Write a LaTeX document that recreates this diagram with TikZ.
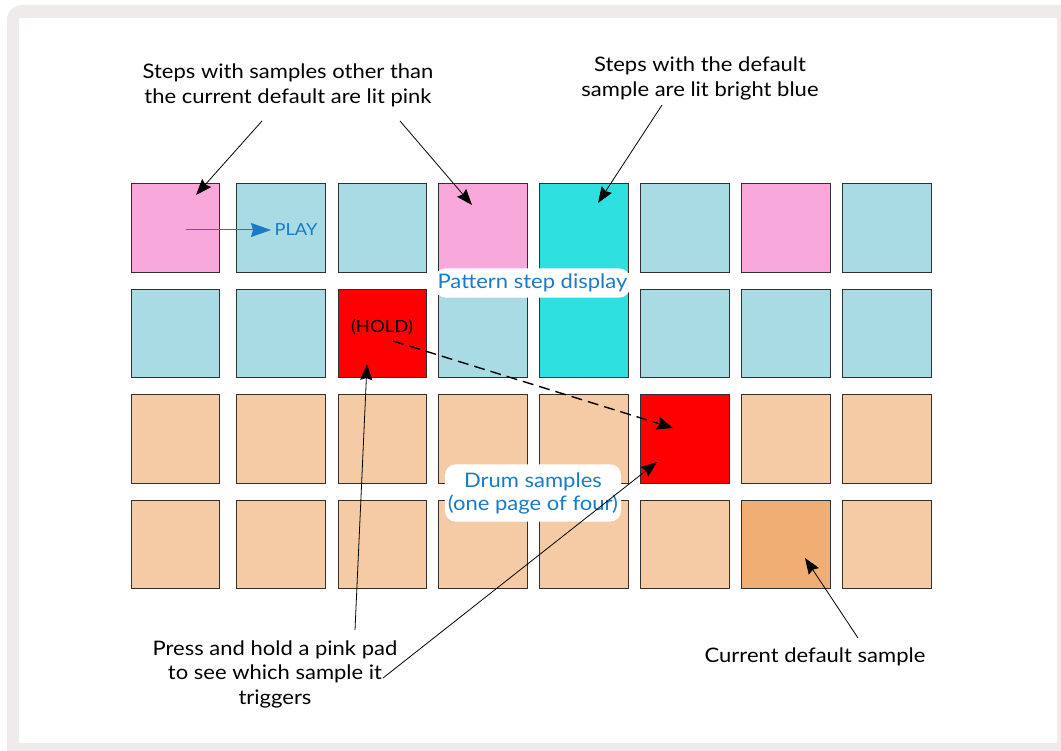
\documentclass[tikz,border=0pt]{standalone}
\usepackage{fontspec}
\setmainfont{Lato}[FakeStretch=1.1]
\usetikzlibrary{arrows.meta}
\definecolor{pinkpad}{HTML}{F9A8DC}
\definecolor{bluepad}{HTML}{A8DBE3}
\definecolor{cyanpad}{HTML}{2EE0E0}
\definecolor{redpad}{HTML}{FF0000}
\definecolor{peachpad}{HTML}{F5CBA6}
\definecolor{orangepad}{HTML}{F0AE74}
\definecolor{framegrey}{HTML}{EFEBEA}
\definecolor{labelblue}{HTML}{1B7AC6}
\definecolor{padedge}{HTML}{303030}
\begin{document}
\begin{tikzpicture}[x=1pt,y=-1pt,
  pad/.style={draw=padedge, line width=1pt, minimum width=88.5pt, minimum height=88.5pt, inner sep=0pt, fill=#1},
  note/.style={font=\fontsize{20}{24.5}\selectfont, align=center, text=black, inner sep=0pt},
  bluelbl/.style={font=\fontsize{20}{23}\selectfont, align=center, text=labelblue, fill=white, rounded corners=11pt, inner xsep=3pt, inner ysep=5.5pt},
  ptr/.style={-{Stealth[length=16pt,width=12pt,inset=2pt]}, line width=0.8pt},
  dashptr/.style={-{Stealth[length=16pt,width=13pt,inset=2pt]}, line width=1.4pt, dash pattern=on 11pt off 6pt}
]
\useasboundingbox (0,0) rectangle (1061,751);
\fill[white] (0,0) rectangle (1061,751);
\fill[framegrey, rounded corners=15pt] (7,5) rectangle (1090,780);
\fill[white] (19,18) rectangle (1057,743);

\foreach \x/\ca/\cb/\cc/\cd [count=\c] in {
  175.5/pinkpad/bluepad/peachpad/peachpad,
  281/bluepad/bluepad/peachpad/peachpad,
  382.5/bluepad/redpad/peachpad/peachpad,
  483/pinkpad/bluepad/peachpad/peachpad,
  584/cyanpad/cyanpad/peachpad/peachpad,
  685/bluepad/bluepad/redpad/peachpad,
  786/pinkpad/bluepad/peachpad/orangepad,
  887/bluepad/bluepad/peachpad/peachpad}{
  \node[pad=\ca] (p1\c) at (\x,228) {};
  \node[pad=\cb] (p2\c) at (\x,333.5) {};
  \node[pad=\cc] (p3\c) at (\x,439) {};
  \node[pad=\cd] (p4\c) at (\x,544.5) {};
}

% labels
\node[note] (n1) at (288,85.5) {Steps with samples other than\\the current default are lit pink};
\node[note] (n2) at (700,78.5) {Steps with the default\\sample are lit bright blue};
\node[note] (n3) at (275,674) {Press and hold a pink pad\\to see which sample it\\triggers};
\node[note] (n4) at (815,657) {Current default sample};

\node[bluelbl] (psd) at (532.5,283) {Pattern step display};
\node[bluelbl, inner ysep=8pt] (drum) at (533,493) {Drum samples\\(one page of four)};

\node[font=\fontsize{16.6}{18}\selectfont, text=labelblue, inner sep=0pt] (play) at (296,229.5) {PLAY};
\node[font=\fontsize{16.8}{18}\selectfont, text=black, inner sep=0pt] (hold) at (382,327) {(HOLD)};

% connector end points
\coordinate (a1s) at (262,121);
\coordinate (a1e) at (196,195);
\coordinate (a2s) at (400,121);
\coordinate (a2e) at (472,205);
\coordinate (a3s) at (662,105);
\coordinate (a3e) at (598,203);
\coordinate (pls) at (186,230);
\coordinate (ple) at (271,230);
\coordinate (hds) at (393,341);
\coordinate (hde) at (673,428);
\coordinate (a5s) at (355,630);
\coordinate (a5e) at (367,364);
\coordinate (a6s) at (383,678);
\coordinate (a6e) at (657,462);
\coordinate (a7s) at (858,638);
\coordinate (a7e) at (805,558);

\draw[ptr] (a1s) -- (a1e);
\draw[ptr] (a2s) -- (a2e);
\draw[ptr] (a3s) -- (a3e);
\draw[-{Stealth[length=20pt,width=14pt,inset=2pt]}, line width=1pt, draw=labelblue, fill=labelblue] (pls) -- (ple);
\draw[dashptr] (hds) -- (hde);
\draw[ptr] (a5s) -- (a5e);
\draw[ptr] (a6s) -- (a6e);
\draw[ptr] (a7s) -- (a7e);
\end{tikzpicture}
\end{document}
